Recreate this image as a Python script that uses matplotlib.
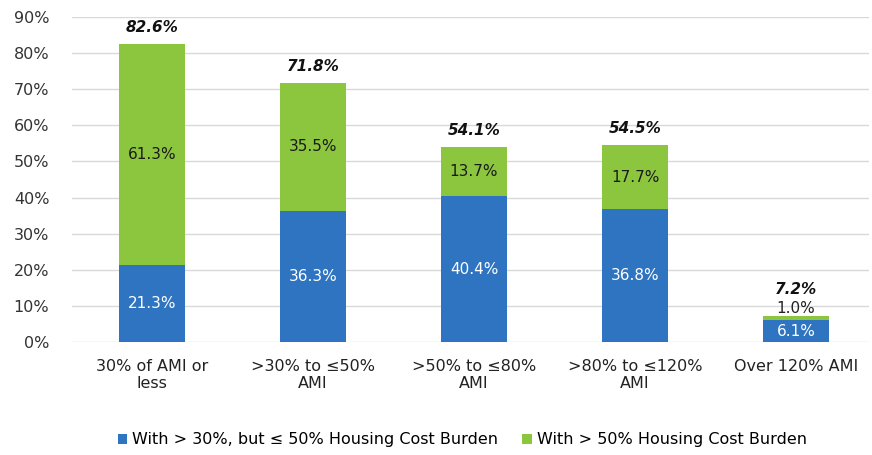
import numpy as np
import matplotlib.pyplot as plt

categories = ['30% of AMI or\nless', '>30% to \u226450%\nAMI', '>50% to \u226480%\nAMI',
              '>80% to \u2264120%\nAMI', 'Over 120% AMI']
burden_30_50 = [21.3, 36.3, 40.4, 36.8, 6.1]
burden_50 = [61.3, 35.5, 13.7, 17.7, 1.0]
totals = ['82.6%', '71.8%', '54.1%', '54.5%', '7.2%']

blue = '#2E74C1'
green = '#8CC63E'

fig = plt.figure(figsize=(8.72, 4.55), dpi=100)
ax = fig.add_axes([0.082, 0.248, 0.914, 0.715])

x = np.arange(len(categories))
b1 = ax.bar(x, burden_30_50, width=0.41, color=blue, label='With > 30%, but \u2264 50% Housing Cost Burden', zorder=3)
b2 = ax.bar(x, burden_50, width=0.41, bottom=burden_30_50, color=green,
            label='With > 50% Housing Cost Burden', zorder=3)

for i in range(len(x)):
    lo = burden_30_50[i]
    hi = burden_50[i]
    if i == 4:
        ax.text(x[i], lo / 2, '%.1f%%' % lo, ha='center', va='center', color='white', fontsize=11, zorder=4)
        ax.text(x[i], lo + hi + 2.2, '%.1f%%' % hi, ha='center', va='center', color='#222222', fontsize=11, zorder=4)
        ax.text(x[i], lo + hi + 7.5, totals[i], ha='center', va='center', fontsize=11,
                fontweight='bold', style='italic', color='#111111')
    else:
        ax.text(x[i], lo / 2, '%.1f%%' % lo, ha='center', va='center', color='white', fontsize=11, zorder=4)
        ax.text(x[i], lo + hi / 2, '%.1f%%' % hi, ha='center', va='center', color='#1a1a1a', fontsize=11, zorder=4)
        ax.text(x[i], lo + hi + 4.5, totals[i], ha='center', va='center', fontsize=11,
                fontweight='bold', style='italic', color='#111111')

ax.set_ylim(0, 90)
ax.set_xlim(-0.5, 4.45)
ax.set_yticks(range(0, 91, 10))
ax.set_yticklabels(['%d%%' % v for v in range(0, 91, 10)], fontsize=11.5, color='#333333')
ax.set_xticks(x)
ax.set_xticklabels(categories, fontsize=11.5, color='#222222')
ax.tick_params(length=0)
ax.tick_params(axis='y', pad=16)
ax.tick_params(axis='x', pad=12)
ax.grid(axis='y', color='#d9d9d9', linewidth=1, zorder=0)
for s in ax.spines.values():
    s.set_visible(False)

fig.legend(handles=[b1, b2], loc='lower center', bbox_to_anchor=(0.53, -0.015), ncol=2, frameon=False,
           fontsize=11.5, handlelength=0.6, handleheight=0.6, handletextpad=0.3, columnspacing=1.5)

fig.savefig('out.png', dpi=100)
